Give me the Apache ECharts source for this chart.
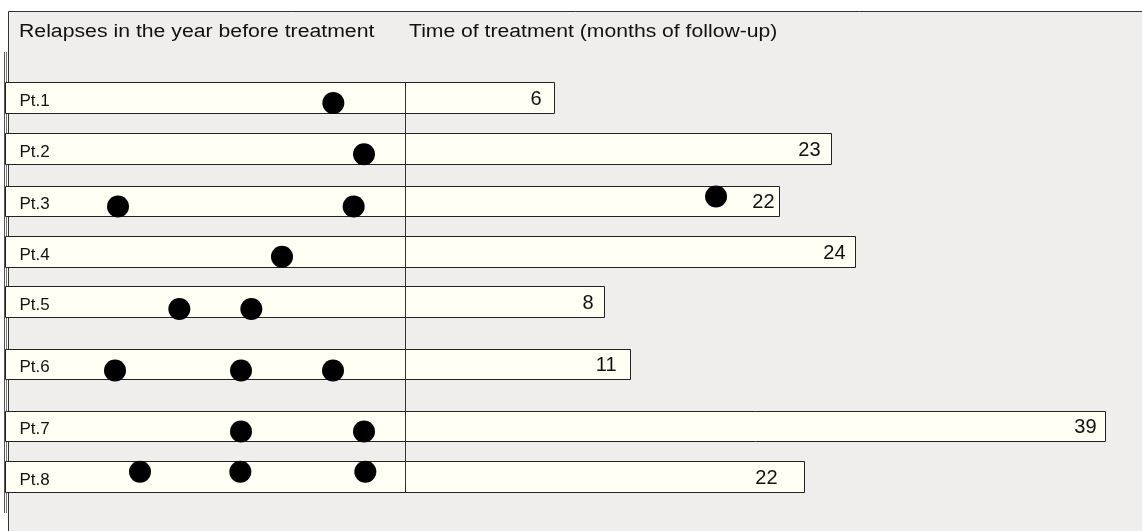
<!DOCTYPE html>
<html>
<head>
<meta charset="utf-8">
<script src="https://cdn.jsdelivr.net/npm/echarts@6/dist/echarts.min.js"></script>
<style>
html,body{margin:0;padding:0;background:#fff;}
#chart{width:1142px;height:531px;}
</style>
</head>
<body>
<div id="chart"></div>
<script>
// ---------- data ----------
const patients = ['Pt.1','Pt.2','Pt.3','Pt.4','Pt.5','Pt.6','Pt.7','Pt.8'];
// vertical row positions (row units)
const rowPos = [1, 2, 3.02, 4, 4.98, 6.2, 7.41, 8.39];
// follow-up months (labels)
const followUp = [6, 23, 22, 24, 8, 11, 39, 22];
// drawn length of the follow-up bar (months on the right axis)
const barLen = [8.33, 23.67, 20.78, 25.0, 11.11, 12.5, 38.94, 22.22];
// relapses in the year before treatment (months relative to treatment)
const relapsesBefore = [
  [-2.15],
  [-1.23],
  [-8.61, -1.54],
  [-3.69],
  [-6.77, -4.61],
  [-8.7, -4.92, -2.16],
  [-4.92, -1.23],
  [-7.95, -4.94, -1.19]
];
// relapses after treatment start: [patient index, month]
const relapsesAfter = [[2, 17.28]];
const headerLeft = 'Relapses in the year before treatment';
const headerRight = 'Time of treatment (months of follow-up)';

// ---------- style ----------
const FONT = '"Liberation Sans", Arial, Helvetica, sans-serif';
const BG = '#efeeec';
const BAR_FILL = '#fffff4';
const STROKE = '#222';
const HALF = 0.3;               // half bar height (row units)
const dotShift = [5, 5, 5, 5, 7, 6, 5, -5];
const afterShift = [-5];
const labelInset = [13, 11, 5, 10, 11, 14, 9, 27];

const chart = echarts.init(document.getElementById('chart'), null, {renderer: 'canvas'});

const yAxisCommon = {type: 'value', min: 0, max: 9, inverse: true, show: false};

function crisp(v){ return Math.round(v - 0.5) + 0.5; }

const option = {
  animation: false,
  backgroundColor: '#ffffff',
  graphic: [
    {type: 'rect', z: -10, shape: {x: 8.5, y: 11.5, width: 1200, height: 600},
     style: {fill: BG, stroke: '#333', lineWidth: 1}},
    {type: 'line', z: -9, shape: {x1: 4.5, y1: 52, x2: 4.5, y2: 513}, style: {stroke: '#555', lineWidth: 1}},
    {type: 'line', z: -9, shape: {x1: 6.5, y1: 52, x2: 6.5, y2: 513}, style: {stroke: '#777', lineWidth: 1}},
    {type: 'text', z: 5, x: 19, y: 32, scaleX: 1.18,
     style: {text: headerLeft, font: '18px ' + FONT, fill: '#111', textAlign: 'left', textVerticalAlign: 'middle'}},
    {type: 'text', z: 5, x: 409, y: 32, scaleX: 1.175,
     style: {text: headerRight, font: '18px ' + FONT, fill: '#111', textAlign: 'left', textVerticalAlign: 'middle'}}
  ],
  grid: [
    {left: 5, width: 400, top: 46.75, height: 461.25},
    {left: 405, width: 720, top: 46.75, height: 461.25}
  ],
  xAxis: [
    {type: 'value', gridIndex: 0, min: -12, max: 0, show: false},
    {type: 'value', gridIndex: 1, min: 0, max: 40, show: false}
  ],
  yAxis: [
    Object.assign({gridIndex: 0}, yAxisCommon),
    Object.assign({gridIndex: 1}, yAxisCommon)
  ],
  series: [
    {
      type: 'custom', xAxisIndex: 0, yAxisIndex: 0, z: 2,
      data: rowPos.map((y, i) => ({value: [-12, y, 0], name: patients[i]})),
      renderItem: function (params, api) {
        const y = api.value(1);
        const p0 = api.coord([api.value(0), y - HALF]);
        const p1 = api.coord([api.value(2), y + HALF]);
        const x0 = crisp(p0[0]), y0 = crisp(p0[1]), x1 = crisp(p1[0]), y1 = crisp(p1[1]);
        return {
          type: 'group',
          children: [
            {type: 'rect', shape: {x: x0, y: y0, width: x1 - x0, height: y1 - y0},
             style: {fill: BAR_FILL, stroke: STROKE, lineWidth: 1}},
            {type: 'text', x: x0 + 14, y: (y0 + y1) / 2 + 3,
             style: {text: patients[params.dataIndex], font: '17px ' + FONT, fill: '#111',
                     textAlign: 'left', textVerticalAlign: 'middle'}}
          ]
        };
      },
      markLine: {
        silent: true, symbol: 'none', label: {show: false},
        lineStyle: {color: '#333', width: 1, type: 'solid'},
        data: [[{coord: [0, rowPos[0] - HALF + 0.06]}, {coord: [0, rowPos[rowPos.length - 1] + 0.2]}]]
      }
    },
    {
      type: 'custom', xAxisIndex: 1, yAxisIndex: 1, z: 2,
      data: rowPos.map((y, i) => ({value: [0, y, barLen[i]], name: patients[i]})),
      renderItem: function (params, api) {
        const i = params.dataIndex;
        const y = api.value(1);
        const p0 = api.coord([api.value(0), y - HALF]);
        const p1 = api.coord([api.value(2), y + HALF]);
        const x0 = crisp(p0[0]), y0 = crisp(p0[1]), x1 = crisp(p1[0]), y1 = crisp(p1[1]);
        return {
          type: 'group',
          children: [
            {type: 'rect', shape: {x: x0, y: y0, width: x1 - x0, height: y1 - y0},
             style: {fill: BAR_FILL, stroke: STROKE, lineWidth: 1}},
            {type: 'text', x: x1 - labelInset[i], y: (y0 + y1) / 2 + 1,
             style: {text: String(followUp[i]), font: '20px ' + FONT, fill: '#111',
                     textAlign: 'right', textVerticalAlign: 'middle'}}
          ]
        };
      }
    },
    {
      type: 'scatter', xAxisIndex: 0, yAxisIndex: 0, z: 5,
      symbol: 'circle', symbolSize: 22,
      itemStyle: {color: '#000', opacity: 1},
      data: relapsesBefore.flatMap((arr, i) => arr.map(m => ({value: [m, rowPos[i]], symbolOffset: [0, dotShift[i]]})))
    },
    {
      type: 'scatter', xAxisIndex: 1, yAxisIndex: 1, z: 5,
      symbol: 'circle', symbolSize: 22,
      itemStyle: {color: '#000', opacity: 1},
      data: relapsesAfter.map((r, k) => ({value: [r[1], rowPos[r[0]]], symbolOffset: [0, afterShift[k]]}))
    }
  ]
};
chart.setOption(option);
</script>
</body>
</html>
